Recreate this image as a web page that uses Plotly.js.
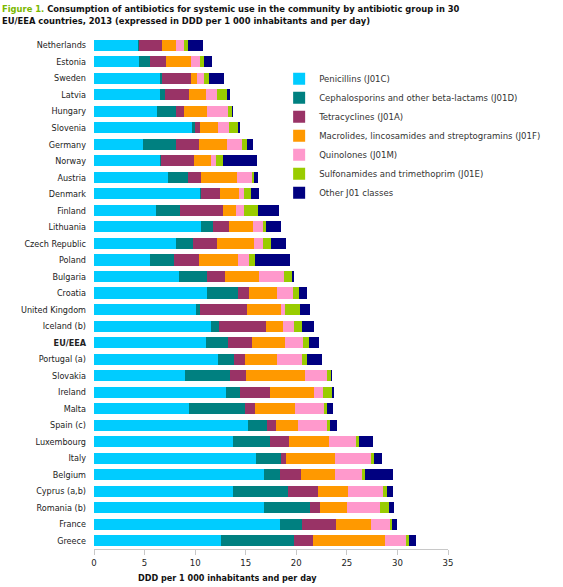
<!DOCTYPE html>
<html>
<head>
<meta charset="utf-8">
<script src="https://cdn.plot.ly/plotly-3.0.1.min.js"></script>
<style>html,body{margin:0;padding:0;background:#fff;}#chart{width:563px;height:587px;}</style>
</head>
<body>
<div id="chart"></div>
<script>
const countries = ["Netherlands","Estonia","Sweden","Latvia","Hungary","Slovenia","Germany","Norway","Austria","Denmark","Finland","Lithuania","Czech Republic","Poland","Bulgaria","Croatia","United Kingdom","Iceland (b)","EU/EEA","Portugal (a)","Slovakia","Ireland","Malta","Spain (c)","Luxembourg","Italy","Belgium","Cyprus (a,b)","Romania (b)","France","Greece"];
const penicillins = [4.38,4.45,6.56,6.53,6.26,9.69,4.85,6.53,7.32,10.48,6.16,10.61,8.11,5.54,8.40,11.21,10.09,11.54,11.11,12.29,9.00,13.08,9.43,15.26,13.71,16.02,16.84,13.74,16.78,18.39,12.56];
const cephalosporins = [0.07,1.12,0.13,0.49,1.81,0.30,3.23,0.10,1.94,0.07,2.31,1.19,1.71,2.34,2.77,3.00,0.36,0.82,2.18,1.58,4.48,1.32,5.50,1.85,3.72,2.50,1.52,5.44,4.55,2.14,7.22];
const tetracyclines = [2.27,1.55,2.90,2.37,0.82,0.49,2.34,3.26,1.32,1.91,4.28,1.55,2.34,2.50,1.78,1.15,4.68,4.61,2.34,1.05,1.52,2.97,1.02,0.86,1.88,0.49,2.14,3.00,1.05,3.39,1.88];
const macrolides = [1.38,2.47,0.59,1.71,2.31,1.78,2.77,1.68,3.56,1.88,1.29,2.37,3.66,3.86,3.36,2.77,3.39,1.71,3.26,3.20,5.90,4.38,3.92,2.24,3.92,4.81,3.36,2.93,2.64,3.46,7.15];
const quinolones = [0.76,0.86,0.66,1.05,2.01,1.09,1.45,0.49,1.48,0.46,0.82,0.99,0.89,1.12,2.50,1.55,0.36,1.09,1.78,2.44,2.14,0.89,2.90,2.83,2.67,3.53,2.64,3.49,3.23,1.88,2.04];
const sulfonamides = [0.40,0.40,0.49,0.99,0.40,0.92,0.53,0.69,0.16,0.76,1.35,0.30,0.79,0.59,0.73,0.59,1.48,0.82,0.59,0.53,0.36,0.92,0.23,0.30,0.30,0.30,0.30,0.33,0.92,0.16,0.26];
const otherJ01 = [1.48,0.82,1.55,0.26,0.13,0.13,0.56,3.36,0.40,0.79,2.04,1.48,1.45,3.43,0.26,0.76,0.99,1.15,0.99,1.48,0.10,0.13,0.66,0.73,1.38,0.86,2.77,0.66,0.49,0.56,0.73];
const seriesNames = ["Penicillins (J01C)","Cephalosporins and other beta-lactams (J01D)","Tetracyclines (J01A)","Macrolides, lincosamides and streptogramins (J01F)","Quinolones (J01M)","Sulfonamides and trimethoprim (J01E)","Other J01 classes"];
const seriesColors = ["#00ccff","#008080","#993366","#ff9900","#ff99cc","#99cc00","#000080"];
const xTicks = [0,5,10,15,20,25,30,35];

const seriesValues = [penicillins,cephalosporins,tetracyclines,macrolides,quinolones,sulfonamides,otherJ01];
const labels = countries.map(c => c === "EU/EEA" ? "<b>EU/EEA</b>" : c);
const traces = seriesValues.map((vals,i) => ({
  type: "bar", orientation: "h", name: seriesNames[i],
  x: vals, y: labels,
  marker: {color: seriesColors[i], line: {width: 0}},
  hoverinfo: "x+y+name"
}));

const FONT = "DejaVu Sans Condensed, DejaVu Sans, Verdana, sans-serif";
const plotW = 563 - 94 - 115, plotH = 587 - 37 - 38;
const layout = {
  width: 563, height: 587,
  barmode: "stack", bargap: 0.33,
  paper_bgcolor: "#fff", plot_bgcolor: "#fff",
  margin: {l: 94, r: 115, t: 37, b: 38, autoexpand: false},
  font: {family: FONT, size: 9, color: "#222"},
  showlegend: true,
  legend: {x: 0.523, y: 0.947, xanchor: "left", yanchor: "top", traceorder: "normal",
           font: {size: 9.5, color: "#333", family: FONT}, bgcolor: "rgba(0,0,0,0)", itemwidth: 30, tracegroupgap: 0},
  xaxis: {range: [0,35], tickvals: xTicks, ticktext: xTicks.map(String), showgrid: false, zeroline: false,
          showline: true, linecolor: "#c8c8c8", linewidth: 1, ticks: "outside", ticklen: 5, tickcolor: "#c8c8c8",
          tickfont: {size: 9.5, color: "#222"}, fixedrange: true},
  yaxis: {autorange: "reversed", type: "category", showgrid: false, zeroline: false, showline: false,
          ticks: "", ticklabelstandoff: 7, tickfont: {size: 9, color: "#222", family: FONT}},
  annotations: [
    {xref: "paper", yref: "paper", x: -94/plotW, y: 1 + 36/plotH, xanchor: "left", yanchor: "top", showarrow: false, align: "left",
     text: "<span style='color:#7ab800'>Figure 1.</span> Consumption of antibiotics for systemic use in the community by antibiotic group in 30<br>EU/EEA countries, 2013 (expressed in DDD per 1 000 inhabitants and per day)",
     font: {size: 9.3, color: "#111", family: FONT, weight: "bold"}},
    {xref: "paper", yref: "paper", x: (136-94)/plotW, y: -22/plotH, xanchor: "left", yanchor: "top", showarrow: false,
     text: "<b>DDD per 1 000 inhabitants and per day</b>", font: {size: 9, color: "#111", family: FONT}}
  ]
};
Plotly.newPlot("chart", traces, layout, {displayModeBar: false, staticPlot: true});
</script>
</body>
</html>
